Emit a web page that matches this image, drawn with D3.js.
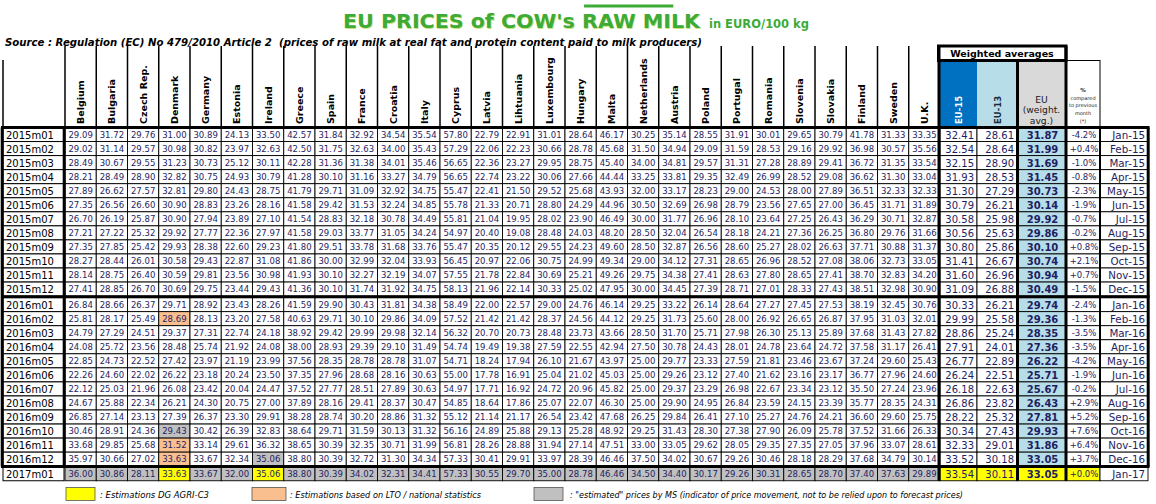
<!DOCTYPE html>
<html>
<head>
<meta charset="utf-8">
<script src="https://cdn.jsdelivr.net/npm/d3@7"></script>
<style>
  body { margin: 0; background: #fff; }
  svg { display: block; }
</style>
</head>
<body>
<div id="chart"></div>
<script>
const countries = ['Belgium', 'Bulgaria', 'Czech Rep.', 'Denmark', 'Germany', 'Estonia', 'Ireland',
  'Greece', 'Spain', 'France', 'Croatia', 'Italy', 'Cyprus', 'Latvia', 'Lihtuania', 'Luxembourg',
  'Hungary', 'Malta', 'Netherlands', 'Austria', 'Poland', 'Portugal', 'Romania', 'Slovenia',
  'Slovakia', 'Finland', 'Sweden', 'U.K.'];

const periods = ['2015m01', '2015m02', '2015m03', '2015m04', '2015m05', '2015m06', '2015m07',
  '2015m08', '2015m09', '2015m10', '2015m11', '2015m12', '2016m01', '2016m02', '2016m03',
  '2016m04', '2016m05', '2016m06', '2016m07', '2016m08', '2016m09', '2016m10', '2016m11',
  '2016m12', '2017m01'];

const monthLabels = ['Jan-15', 'Feb-15', 'Mar-15', 'Apr-15', 'May-15', 'Jun-15', 'Jul-15',
  'Aug-15', 'Sep-15', 'Oct-15', 'Nov-15', 'Dec-15', 'Jan-16', 'Feb-16', 'Mar-16', 'Apr-16',
  'May-16', 'Jun-16', 'Jul-16', 'Aug-16', 'Sep-16', 'Oct-16', 'Nov-16', 'Dec-16', 'Jan-17'];

// one row per period, one value per country (EURO/100 kg)
const countryPrices = [
  [29.09, 31.72, 29.76, 31.00, 30.89, 24.13, 33.50, 42.57, 31.84, 32.92, 34.54, 35.54, 57.80, 22.79, 22.91, 31.01, 28.64, 46.17, 30.25, 35.14, 28.55, 31.91, 30.01, 29.65, 30.79, 41.78, 31.33, 33.35],
  [29.02, 31.14, 29.57, 30.98, 30.82, 23.97, 32.63, 42.50, 31.75, 32.63, 34.00, 35.43, 57.29, 22.06, 22.23, 30.66, 28.78, 45.68, 31.50, 34.94, 29.09, 31.59, 28.53, 29.16, 29.92, 36.98, 30.57, 35.56],
  [28.49, 30.67, 29.55, 31.23, 30.73, 25.12, 30.11, 42.28, 31.36, 31.38, 34.01, 35.46, 56.65, 22.36, 23.27, 29.95, 28.75, 45.40, 34.00, 34.81, 29.57, 31.31, 27.28, 28.89, 29.41, 36.72, 31.35, 33.54],
  [28.21, 28.49, 28.90, 32.82, 30.75, 24.93, 30.79, 41.28, 30.10, 31.16, 33.27, 34.79, 56.65, 22.74, 23.22, 30.06, 27.66, 44.44, 33.25, 33.81, 29.35, 32.49, 26.99, 28.52, 29.08, 36.62, 31.30, 33.04],
  [27.89, 26.62, 27.57, 32.81, 29.80, 24.43, 28.75, 41.79, 29.71, 31.09, 32.92, 34.75, 55.47, 22.41, 21.50, 29.52, 25.68, 43.93, 32.00, 33.17, 28.23, 29.00, 24.53, 28.00, 27.89, 36.51, 32.33, 32.33],
  [27.35, 26.56, 26.60, 30.90, 28.83, 23.26, 28.16, 41.58, 29.42, 31.53, 32.24, 34.85, 55.78, 21.33, 20.71, 28.80, 24.29, 44.96, 30.50, 32.69, 26.98, 28.79, 23.56, 27.65, 27.00, 36.45, 31.71, 31.89],
  [26.70, 26.19, 25.87, 30.90, 27.94, 23.89, 27.10, 41.54, 28.83, 32.18, 30.78, 34.49, 55.81, 21.04, 19.95, 28.02, 23.90, 46.49, 30.00, 31.77, 26.96, 28.10, 23.64, 27.25, 26.43, 36.29, 30.71, 32.87],
  [27.21, 27.22, 25.32, 29.92, 27.77, 22.36, 27.97, 41.58, 29.03, 33.77, 31.05, 34.24, 54.97, 20.40, 19.08, 28.48, 24.03, 48.20, 28.50, 32.04, 26.54, 28.18, 24.21, 27.36, 26.25, 36.80, 29.76, 31.66],
  [27.35, 27.85, 25.42, 29.93, 28.38, 22.60, 29.23, 41.80, 29.51, 33.78, 31.68, 33.76, 55.47, 20.35, 20.12, 29.55, 24.23, 49.60, 28.50, 32.87, 26.56, 28.60, 25.27, 28.02, 26.63, 37.71, 30.88, 31.37],
  [28.27, 28.44, 26.01, 30.58, 29.43, 22.87, 31.08, 41.86, 30.00, 32.99, 32.04, 33.93, 56.45, 20.97, 22.06, 30.75, 24.99, 49.34, 29.00, 34.12, 27.31, 28.65, 26.96, 28.52, 27.08, 38.06, 32.73, 33.05],
  [28.14, 28.75, 26.40, 30.59, 29.81, 23.56, 30.98, 41.93, 30.10, 32.27, 32.19, 34.07, 57.55, 21.78, 22.84, 30.69, 25.21, 49.26, 29.75, 34.38, 27.41, 28.63, 27.80, 28.65, 27.41, 38.70, 32.83, 34.20],
  [27.41, 28.85, 26.70, 30.69, 29.75, 23.44, 29.43, 41.36, 30.10, 31.74, 31.92, 34.75, 58.13, 21.96, 22.14, 30.33, 25.02, 47.95, 30.00, 34.45, 27.39, 28.71, 27.01, 28.33, 27.43, 38.51, 32.98, 30.90],
  [26.84, 28.66, 26.37, 29.71, 28.92, 23.43, 28.26, 41.59, 29.90, 30.43, 31.81, 34.38, 58.49, 22.00, 22.57, 29.00, 24.76, 46.14, 29.25, 33.22, 26.14, 28.64, 27.27, 27.45, 27.53, 38.19, 32.45, 30.76],
  [25.81, 28.17, 25.49, 28.69, 28.13, 23.20, 27.58, 40.63, 29.71, 30.10, 29.86, 34.09, 57.52, 21.42, 21.42, 28.37, 24.56, 44.12, 29.25, 31.73, 25.60, 28.00, 26.92, 26.65, 26.87, 37.95, 31.03, 32.01],
  [24.79, 27.29, 24.51, 29.37, 27.31, 22.74, 24.18, 38.92, 29.42, 29.99, 29.98, 32.14, 56.32, 20.70, 20.73, 28.48, 23.73, 43.66, 28.50, 31.70, 25.71, 27.98, 26.30, 25.13, 25.89, 37.68, 31.43, 27.82],
  [24.08, 25.72, 23.56, 28.48, 25.74, 21.92, 24.08, 38.00, 28.93, 29.39, 29.10, 31.49, 54.74, 19.49, 19.38, 27.59, 22.55, 42.94, 27.50, 30.78, 24.43, 28.01, 24.78, 23.64, 24.72, 37.58, 31.17, 26.41],
  [22.85, 24.73, 22.52, 27.42, 23.97, 21.19, 23.99, 37.56, 28.35, 28.78, 28.78, 31.07, 54.71, 18.24, 17.94, 26.10, 21.67, 43.97, 25.00, 29.77, 23.33, 27.59, 21.81, 23.46, 23.67, 37.24, 29.60, 25.43],
  [22.26, 24.60, 22.02, 26.22, 23.18, 20.24, 23.50, 37.35, 27.96, 28.68, 28.16, 30.63, 55.00, 17.78, 16.91, 25.04, 21.02, 45.03, 25.00, 29.26, 23.12, 27.40, 21.62, 23.16, 23.17, 36.77, 27.96, 24.60],
  [22.12, 25.03, 21.96, 26.08, 23.42, 20.04, 24.47, 37.52, 27.77, 28.51, 27.89, 30.63, 54.97, 17.71, 16.92, 24.72, 20.96, 45.82, 25.00, 29.37, 23.29, 26.98, 22.67, 23.34, 23.12, 35.50, 27.24, 23.96],
  [24.67, 25.88, 22.34, 26.21, 24.30, 20.75, 27.00, 37.89, 28.16, 29.41, 28.37, 30.47, 54.85, 18.64, 17.86, 25.07, 22.07, 46.30, 25.00, 29.90, 24.95, 26.84, 23.59, 24.15, 23.39, 35.77, 28.35, 24.31],
  [26.85, 27.14, 23.13, 27.39, 26.37, 23.30, 29.91, 38.28, 28.74, 30.20, 28.86, 31.32, 55.12, 21.14, 21.17, 26.54, 23.42, 47.68, 26.25, 29.84, 26.41, 27.10, 25.27, 24.76, 24.21, 36.60, 29.60, 25.75],
  [30.46, 28.91, 24.36, 29.43, 30.42, 26.39, 32.83, 38.64, 29.71, 31.59, 30.13, 31.32, 56.16, 24.89, 25.88, 29.13, 25.28, 48.92, 29.25, 31.43, 28.30, 27.38, 27.90, 26.09, 25.78, 37.52, 31.66, 26.33],
  [33.68, 29.85, 25.68, 31.52, 33.14, 29.61, 36.32, 38.65, 30.39, 32.35, 30.71, 31.99, 56.81, 28.26, 28.88, 31.94, 27.14, 47.51, 33.00, 33.05, 29.62, 28.05, 29.35, 27.35, 27.05, 37.96, 33.07, 28.61],
  [35.97, 30.66, 27.02, 33.63, 33.67, 32.34, 35.06, 38.80, 30.39, 32.72, 31.30, 34.34, 57.33, 30.41, 29.91, 33.97, 28.39, 46.46, 37.50, 34.02, 30.67, 29.26, 30.46, 28.18, 28.29, 37.68, 34.79, 30.14],
  [36.00, 30.86, 28.11, 33.63, 33.67, 32.00, 35.06, 38.80, 30.39, 34.02, 32.31, 34.41, 57.33, 30.55, 29.70, 35.00, 28.78, 46.46, 34.50, 34.40, 30.17, 29.26, 30.31, 28.65, 28.70, 37.40, 37.63, 29.89],
];

const eu15 = [32.41, 32.54, 32.15, 31.93, 31.30, 30.79, 30.58, 30.56, 30.80, 31.41, 31.60, 31.09,
  30.33, 29.99, 28.86, 27.91, 26.77, 26.24, 26.18, 26.86, 28.22, 30.34, 32.33, 33.52, 33.54];
const eu13 = [28.61, 28.64, 28.90, 28.53, 27.29, 26.21, 25.98, 25.63, 25.86, 26.67, 26.96, 26.88,
  26.21, 25.58, 25.24, 24.01, 22.89, 22.51, 22.63, 23.82, 25.32, 27.43, 29.01, 30.18, 30.11];
const euAvg = [31.87, 31.99, 31.69, 31.45, 30.73, 30.14, 29.92, 29.86, 30.10, 30.74, 30.94, 30.49,
  29.74, 29.36, 28.35, 27.36, 26.22, 25.71, 25.67, 26.43, 27.81, 29.93, 31.86, 33.05, 33.05];
const pctChange = [-4.2, 0.4, -1.0, -0.8, -2.3, -1.9, -0.7, -0.2, 0.8, 2.1, 0.7, -1.5,
  -2.4, -1.3, -3.5, -3.5, -4.2, -1.9, -0.2, 2.9, 5.2, 7.6, 6.4, 3.7, 0.0];

// estimated cells: [period, country, kind]; dg = DG AGRI-C3, lto = LTO/national, ms = MS estimate
const estimatedCells = [
  ['2016m02', 'Denmark', 'lto'],
  ['2016m10', 'Denmark', 'ms'],
  ['2016m11', 'Denmark', 'lto'],
  ['2016m12', 'Denmark', 'lto'],
  ['2016m12', 'Ireland', 'ms'],
  ...countries.map(c => ['2017m01', c, (c === 'Denmark' || c === 'Ireland') ? 'dg' : 'ms']),
];
const estimatedSummaryPeriods = ['2017m01'];

const legendItems = [
  { kind: 'dg', text: ': Estimations DG AGRI-C3' },
  { kind: 'lto', text: ': Estimations based on LTO / national statistics' },
  { kind: 'ms', text: ': "estimated" prices by MS (indicator of price movement, not to be relied upon to forecast prices)' },
];

const fills = { dg: '#ffff00', lto: '#fabf8f', ms: '#c0c0c0' };
const ink = '#1e1e62';
const green = '#3dab37';
const font = '"DejaVu Sans", Verdana, sans-serif';

const width = 1156;
const height = 504;
const tableTop = 127.5;
const rowH = 14.05;

const svg = d3.select('#chart')
  .append('svg')
  .attr('width', width)
  .attr('height', height)
  .style('font-family', font);

// scales
const x = d3.scaleBand().domain(countries).range([65, 940]);
const yBand = d3.scaleBand().domain(periods).range([0, periods.length * rowH]);
const rowTop = (p) => {
  const i = periods.indexOf(p);
  return tableTop + yBand(p) + (i >= 12 ? 1.5 : 0) + (i >= 24 ? 0.5 : 0);
};
const lastTop = rowTop(periods[periods.length - 1]);
const tableBottom = lastTop + rowH;

const summaryCols = [
  { key: 'eu15', x0: 940, x1: 977, values: eu15 },
  { key: 'eu13', x0: 977, x1: 1017, values: eu13 },
  { key: 'eu', x0: 1017, x1: 1066, values: euAvg },
  { key: 'pct', x0: 1066, x1: 1100, values: pctChange },
  { key: 'month', x0: 1100, x1: 1148, values: monthLabels },
];
const fmtPct = d => `${d >= 0 ? '+' : '-'}${Math.abs(d).toFixed(1)}%`;

const flagOf = (p, c) => {
  const hit = estimatedCells.find(e => e[0] === p && e[1] === c);
  return hit ? hit[2] : null;
};

/* ---------- title ---------- */
const title = svg.append('g');
const titleText = (g, dx, dy, fill) => g.append('text')
  .attr('x', 343 + dx)
  .attr('y', 28 + dy)
  .attr('fill', fill)
  .attr('font-weight', 'bold')
  .attr('font-size', 20)
  .attr('textLength', 357)
  .attr('lengthAdjust', 'spacingAndGlyphs')
  .text("EU PRICES of COW's RAW MILK");
titleText(title, 0.8, 0.8, '#cfe27a');
const mainTitle = titleText(title, 0, 0, green);

const full = "EU PRICES of COW's ";
const rawStart = mainTitle.node().getSubStringLength(0, full.length);
const rawLen = mainTitle.node().getSubStringLength(full.length, 5);
title.append('rect')
  .attr('x', 343 + rawStart + 2)
  .attr('y', 4.5)
  .attr('width', rawLen + 8)
  .attr('height', 3)
  .attr('fill', green);

title.append('text')
  .attr('x', 709)
  .attr('y', 28)
  .attr('fill', green)
  .attr('font-weight', 'bold')
  .attr('font-size', 12)
  .attr('textLength', 100)
  .attr('lengthAdjust', 'spacingAndGlyphs')
  .text('in EURO/100 kg');

svg.append('text')
  .attr('x', 5)
  .attr('y', 46)
  .attr('font-weight', 'bold')
  .attr('font-style', 'italic')
  .attr('font-size', 10)
  .attr('textLength', 697)
  .attr('lengthAdjust', 'spacingAndGlyphs')
  .style('white-space', 'pre')
  .text('Source : Regulation (EC) No 479/2010 Article 2  (prices of raw milk at real fat and protein content paid to milk producers)');

/* ---------- column headers ---------- */
const header = svg.append('g');

header.selectAll('line.col')
  .data(x.domain().map(d => x(d)).concat([x.range()[1]]))
  .join('line')
  .attr('class', 'col')
  .attr('x1', d => d).attr('x2', d => d)
  .attr('y1', 46).attr('y2', tableTop)
  .attr('stroke', '#000')
  .attr('stroke-width', 1.5);

header.append('line')
  .attr('x1', 3).attr('x2', 3)
  .attr('y1', 60).attr('y2', tableTop)
  .attr('stroke', '#000')
  .attr('stroke-width', 1.5);

header.selectAll('text.country')
  .data(countries)
  .join('text')
  .attr('class', 'country')
  .attr('transform', d => `translate(${x(d) + x.bandwidth() / 2 + 3.6},124) rotate(-90)`)
  .attr('font-weight', 'bold')
  .attr('font-size', 9.5)
  .attr('fill', '#000')
  .text(d => d);

// weighted averages block
header.append('rect')
  .attr('x', 940).attr('y', 60.5).attr('width', 37).attr('height', tableTop - 60.5)
  .attr('fill', '#0070c0');
header.append('rect')
  .attr('x', 977).attr('y', 60.5).attr('width', 40).attr('height', tableTop - 60.5)
  .attr('fill', '#b7dde8');
header.append('rect')
  .attr('x', 1017).attr('y', 60.5).attr('width', 49).attr('height', tableTop - 60.5)
  .attr('fill', '#d9d9d9');

header.append('text')
  .attr('transform', 'translate(961.5,124) rotate(-90)')
  .attr('font-weight', 'bold').attr('font-size', 8.5).attr('fill', '#fff')
  .text('EU-15');
header.append('text')
  .attr('transform', 'translate(1000.5,124) rotate(-90)')
  .attr('font-weight', 'bold').attr('font-size', 8.5).attr('fill', '#1a2a3a')
  .text('EU-13');

header.selectAll('text.eu')
  .data(['EU', '(weight.', 'avg.)'])
  .join('text')
  .attr('class', 'eu')
  .attr('x', 1041.5)
  .attr('y', (d, i) => 102.5 + i * 10.8)
  .attr('text-anchor', 'middle')
  .attr('font-size', 9.2)
  .attr('fill', '#1a1a1a')
  .text(d => d);

header.append('rect')
  .attr('x', 1066).attr('y', 60.5).attr('width', 34).attr('height', tableTop - 60.5)
  .attr('fill', '#fff').attr('stroke', '#000').attr('stroke-width', 1);

header.selectAll('text.pct')
  .data(['%', 'compared', 'to previous', 'month', '(*)'])
  .join('text')
  .attr('class', 'pct')
  .attr('x', 1083)
  .attr('y', (d, i) => 92 + i * 7.7)
  .attr('text-anchor', 'middle')
  .attr('font-size', (d, i) => (i === 0 ? 5.5 : 5))
  .attr('font-weight', (d, i) => (i === 0 ? 'bold' : 'normal'))
  .attr('fill', '#1a1a1a')
  .text(d => d);

header.append('rect')
  .attr('x', 938.5).attr('y', 46).attr('width', 127.5).attr('height', 14.5)
  .attr('fill', '#fff').attr('stroke', '#000').attr('stroke-width', 3);
header.append('text')
  .attr('x', 1002).attr('y', 56.5)
  .attr('text-anchor', 'middle')
  .attr('font-weight', 'bold')
  .attr('font-size', 9.5)
  .text('Weighted averages');

/* ---------- body ---------- */
const body = svg.append('g');

// row labels
const labels = body.selectAll('g.label')
  .data(periods)
  .join('g')
  .attr('class', 'label')
  .attr('transform', d => `translate(0,${rowTop(d)})`);
labels.append('rect')
  .attr('x', 3).attr('width', 61).attr('height', rowH)
  .attr('fill', '#fff').attr('stroke', '#000').attr('stroke-width', 1);
labels.append('text')
  .attr('x', 6).attr('y', 11)
  .attr('font-size', 10)
  .attr('fill', '#000')
  .text(d => d);

// country cells
const cells = periods.flatMap((p, i) => countries.map((c, j) => ({
  p, c, v: countryPrices[i][j], flag: flagOf(p, c),
})));

const cell = body.selectAll('g.cell')
  .data(cells)
  .join('g')
  .attr('class', 'cell')
  .attr('transform', d => `translate(${x(d.c)},${rowTop(d.p)})`);
cell.append('rect')
  .attr('width', x.bandwidth()).attr('height', rowH)
  .attr('fill', d => (d.flag ? fills[d.flag] : '#fff'))
  .attr('stroke', '#000').attr('stroke-width', 0.9);
cell.append('text')
  .attr('x', x.bandwidth() / 2).attr('y', 10.2)
  .attr('text-anchor', 'middle')
  .attr('font-size', 8.5)
  .attr('fill', ink)
  .text(d => d.v.toFixed(2));

// summary cells
const summary = summaryCols.flatMap(col => periods.map((p, i) => ({ col, p, v: col.values[i] })));
const summaryFill = (d) => {
  if (d.col.key === 'month') return '#fff';
  if (estimatedSummaryPeriods.includes(d.p)) return fills.dg;
  return d.col.key === 'eu' ? '#b7dde8' : '#fff';
};

const sc = body.selectAll('g.summary')
  .data(summary)
  .join('g')
  .attr('class', 'summary')
  .attr('transform', d => `translate(${d.col.x0},${rowTop(d.p)})`);
sc.append('rect')
  .attr('width', d => d.col.x1 - d.col.x0).attr('height', rowH)
  .attr('fill', summaryFill)
  .attr('stroke', '#000').attr('stroke-width', 0.9);
sc.append('text')
  .attr('x', (d) => {
    const w = d.col.x1 - d.col.x0;
    if (d.col.key === 'eu' || d.col.key === 'pct') return w / 2 + 1;
    return w - 3;
  })
  .attr('y', d => (d.col.key === 'pct' ? 10 : 11))
  .attr('text-anchor', d => ((d.col.key === 'eu' || d.col.key === 'pct') ? 'middle' : 'end'))
  .attr('font-size', (d) => {
    if (d.col.key === 'pct') return 8.5;
    if (d.col.key === 'month') return 10.3;
    return 10;
  })
  .attr('font-weight', d => (d.col.key === 'eu' ? 'bold' : 'normal'))
  .attr('fill', ink)
  .text((d) => {
    if (d.col.key === 'pct') return fmtPct(d.v);
    if (d.col.key === 'month') return d.v;
    return d.v.toFixed(2);
  });

/* ---------- thick frame lines ---------- */
const blockTop2016 = rowTop('2016m01') - 0.75;
const blockBottom = lastTop - 0.25;
const thick = [
  [1, tableTop, 1149.5, tableTop],
  [1, blockTop2016, 1149.5, blockTop2016],
  [1, blockBottom, 1149.5, blockBottom],
  [2.2, tableTop, 2.2, blockBottom],
  [64.2, tableTop, 64.2, blockBottom],
  [1148.2, tableTop, 1148.2, blockBottom],
  [939, 46, 939, tableBottom],
  [1017.5, 60, 1017.5, tableBottom],
  [1066, 46, 1066, tableBottom],
];
body.selectAll('line.thick')
  .data(thick)
  .join('line')
  .attr('class', 'thick')
  .attr('x1', d => d[0]).attr('y1', d => d[1])
  .attr('x2', d => d[2]).attr('y2', d => d[3])
  .attr('stroke', '#000')
  .attr('stroke-width', 3);

body.append('line')
  .attr('x1', 1100).attr('x2', 1100)
  .attr('y1', tableTop).attr('y2', blockBottom)
  .attr('stroke', '#000').attr('stroke-width', 2);

/* ---------- legend ---------- */
const legendX = [[66, 100, 109], [252, 290, 191], [534, 570, 393]];
const legend = svg.selectAll('g.legend')
  .data(legendItems)
  .join('g')
  .attr('class', 'legend');
legend.append('rect')
  .attr('x', (d, i) => legendX[i][0])
  .attr('y', 487.5)
  .attr('width', (d, i) => (i === 1 ? 34 : 29))
  .attr('height', 13)
  .attr('fill', d => fills[d.kind])
  .attr('stroke', '#555')
  .attr('stroke-width', 0.8);
legend.append('text')
  .attr('x', (d, i) => legendX[i][1])
  .attr('y', 497.5)
  .attr('font-family', '"DejaVu Sans Condensed", "Liberation Sans Narrow", "Liberation Sans", sans-serif')
  .attr('font-style', 'italic')
  .attr('font-size', 8.5)
  .attr('textLength', (d, i) => legendX[i][2])
  .attr('lengthAdjust', 'spacingAndGlyphs')
  .text(d => d.text);
</script>
</body>
</html>
